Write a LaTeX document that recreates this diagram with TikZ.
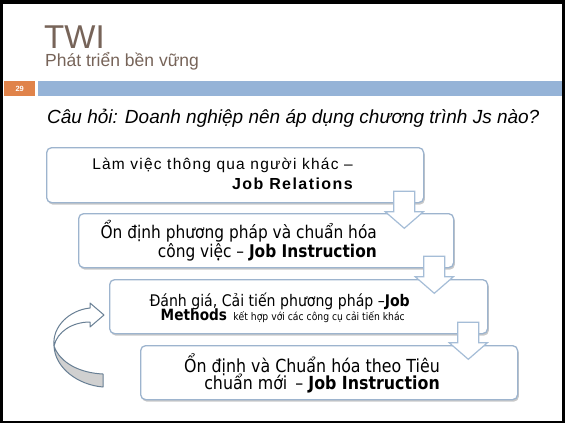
\documentclass[tikz,border=0pt]{standalone}
\usepackage{fontspec}
\setmainfont{Liberation Sans}
\newfontfamily\tah[FakeStretch=0.88]{DejaVu Sans}
\usetikzlibrary{calc,shadows}
\definecolor{titlec}{HTML}{776459}
\definecolor{barblue}{HTML}{95B3D7}
\definecolor{numorange}{HTML}{E0834A}
\definecolor{boxedge}{HTML}{9DB4CE}
\definecolor{arrowedge}{HTML}{A5BDD7}
\definecolor{curveedge}{HTML}{687F94}
\definecolor{curvegray}{HTML}{D0D0D0}
\tikzset{
  box/.style={draw=boxedge, line width=1.3pt, fill=white, rounded corners=5pt,
    anchor=north west, inner sep=0pt,
    drop shadow={shadow xshift=1.2pt, shadow yshift=-2pt, opacity=0.35, fill=black!60}},
  darrow/.style={draw=arrowedge, line width=1.2pt, fill=white, line join=miter},
  txt/.style={anchor=base east, inner sep=0pt},
  curvepart/.style={draw=curveedge, line width=1pt, line join=round},
}
\newcommand\boxarrow[1]{%
  \draw[darrow] ($(#1.south east)+(-30.5,-12)$) -- ++(0,20.5) -- ++(-8.5,0)
    -- ++(19,16.5) -- ++(19,-16.5) -- ++(-8.5,0) -- ++(0,-20.5) -- cycle;}
\begin{document}
\begin{tikzpicture}[x=1pt,y=-1pt]
\useasboundingbox (0,0) rectangle (565,423);
% slide frame
\fill[black] (0,0) rectangle (565,423);
\fill[white] (3,4) rectangle (562,421);
% header
\node[anchor=base west, inner sep=0pt, text=titlec, font=\fontsize{33}{33}\selectfont] (title) at (44,48) {TWI};
\node[anchor=base west, inner sep=0pt, text=titlec, font=\fontsize{17.5}{18}\selectfont] (sub) at (45,66) {Phát triển bền vững};
\node[fill=numorange, minimum width=31pt, minimum height=15pt, inner sep=0pt, anchor=north west,
  text=white, font=\fontsize{7.5}{8}\selectfont\bfseries] (num) at (4,81) {29};
\node[fill=barblue, minimum width=524pt, minimum height=15pt, inner sep=0pt, anchor=north west] (bar) at (38,81) {};
\node[anchor=base west, inner sep=0pt, font=\fontsize{19}{20}\selectfont\itshape] (q) at (47,123)
  {Câu hỏi: Doanh nghiệp nên áp dụng chương trình Js nào?};
% boxes
\node[box, minimum width=377pt, minimum height=55pt] (b1) at (46,147) {};
\node[box, minimum width=375pt, minimum height=54pt] (b2) at (78,213) {};
\boxarrow{b1}
\node[box, minimum width=378pt, minimum height=54pt] (b3) at (109,279) {};
\boxarrow{b2}
\node[box, minimum width=377pt, minimum height=54pt] (b4) at (140,345) {};
\boxarrow{b3}
% texts
\node[txt, font=\fontsize{15.5}{16}\selectfont\addfontfeature{LetterSpace=8}] (t1a) at (353,169) {Làm việc thông qua người khác –};
\node[txt, font=\fontsize{16}{16}\selectfont\bfseries\addfontfeature{LetterSpace=9}] (t1b) at (353,189) {Job Relations};
\node[txt, font=\tah\fontsize{17.5}{18}\selectfont] (t2a) at (377,238) {Ổn định phương pháp và chuẩn hóa};
\node[txt, font=\tah\fontsize{17.5}{18}\selectfont] (t2b) at (377,257) {công việc – \textbf{Job Instruction}};
\node[txt, font=\tah\fontsize{16}{16}\selectfont] (t3a) at (410,306) {Đánh giá, Cải tiến phương pháp –\textbf{Job}};
\node[txt, font=\tah\fontsize{15.5}{16}\selectfont] (t3b) at (405,320.5) {\textbf{Methods}\hspace{2pt} {\fontsize{10.5}{11}\selectfont kết hợp với các công cụ cải tiến khác}};
\node[txt, font=\tah\fontsize{18}{19}\selectfont] (t4a) at (440,372) {Ổn định và Chuẩn hóa theo Tiêu};
\node[txt, font=\tah\fontsize{18}{19}\selectfont] (t4b) at (440,389.5) {chuẩn mới\, – \textbf{Job Instruction}};
% curved arrow
\draw[curvepart, fill=curvegray] (54,346) .. controls (55,368) and (78,385) .. (103,387)
  -- (103,374) .. controls (80,373) and (60,363) .. (54,346) -- cycle;
\draw[curvepart, fill=white] (54,346) .. controls (52,326) and (70,310) .. (90,308)
  -- (90,303) -- (104,315) -- (90,327) -- (90,322)
  .. controls (72,322) and (57,332) .. (54,346) -- cycle;
\end{tikzpicture}
\end{document}
